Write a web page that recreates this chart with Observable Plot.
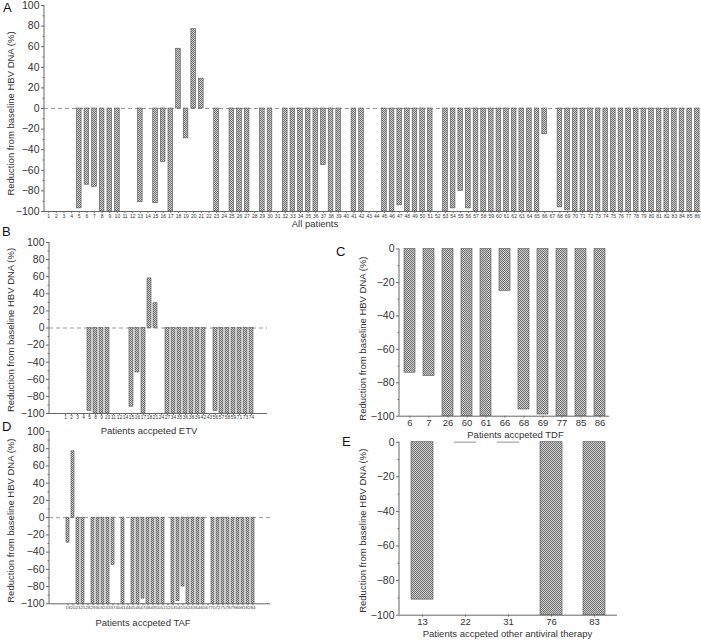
<!DOCTYPE html>
<html>
<head>
<meta charset="utf-8">
<script src="https://cdn.jsdelivr.net/npm/d3@7"></script>
<script src="https://cdn.jsdelivr.net/npm/@observablehq/plot@0.6"></script>
<style>
  html, body { margin: 0; padding: 0; background: white; }
  #wrap { position: relative; width: 701px; height: 640px; font-family: "Liberation Sans", Arial, sans-serif; color: #222; }
  .pnl { position: absolute; }
  .letter { position: absolute; font-size: 13px; line-height: 15px; color: #111; }
</style>
</head>
<body>
<svg width="0" height="0" style="position:absolute">
  <defs>
    <pattern id="hatch" width="2" height="2" patternUnits="userSpaceOnUse">
      <rect width="2" height="2" fill="#d0d0d0"></rect>
      <rect x="0" y="0" width="1" height="1" fill="#707070"></rect>
      <rect x="1" y="1" width="1" height="1" fill="#707070"></rect>
    </pattern>
  </defs>
</svg>
<div id="wrap"></div>
<script>
// ---- data ----
const allIds = [1,2,3,4,5,6,7,8,9,10,11,12,13,14,15,16,17,18,19,20,21,22,23,24,25,26,27,28,29,30,
  31,32,33,34,35,36,37,38,39,40,41,42,43,44,45,46,47,48,49,50,51,52,53,54,55,56,57,58,59,60,
  61,62,63,64,65,66,67,68,69,70,71,72,73,74,75,76,77,78,79,80,81,82,83,84,85,86];
const allValues = [0,0,0,0,-97,-74,-76,-100,-100,-100,0,0,-91,0,-92,-52,-100,58,-29,77,
  29,0,-100,0,-100,-100,-100,0,-100,-100,0,-100,-100,-100,-100,-100,-55,-100,-100,0,
  -100,-100,0,0,-100,-100,-94,-100,-100,-100,-100,0,-100,-97,-80,-97,-100,-100,-100,-100,
  -100,-100,-100,-100,-100,-25,0,-96,-99,-100,-100,-100,-100,-100,-100,-100,-100,-100,-100,-100,
  -100,-100,-100,-100,-100,-100];
const etvIds = [1,2,3,4,5,8,9,10,11,12,14,15,16,17,18,21,24,27,34,35,36,38,39,42,43,56,57,58,59,71,73,74];
const tdfIds = [6,7,26,60,61,66,68,69,77,85,86];
const tafIds = [19,20,23,25,28,29,30,32,33,37,40,41,44,45,46,47,48,49,50,51,52,53,54,55,62,63,64,65,67,70,72,75,78,79,80,81,82,84];
const otherIds = [13,22,31,76,83];

const yTitle = "Reduction from baseline HBV DNA (%)";
const fullTicks = [-100,-80,-60,-40,-20,0,20,40,60,80,100];
const fullMinor = [-90,-70,-50,-30,-10,10,30,50,70,90];
const negTicks = [-100,-80,-60,-40,-20,0];
const negMinor = [-90,-70,-50,-30,-10];

const valueOf = new Map(allIds.map((id, i) => [id, allValues[i]]));

const wrap = document.getElementById("wrap");

function leftLine(...args) {
  const dims = args.find(a => a && a.marginLeft !== undefined);
  const l = document.createElementNS("http://www.w3.org/2000/svg", "line");
  l.setAttribute("x1", dims.marginLeft);
  l.setAttribute("x2", dims.marginLeft);
  l.setAttribute("y1", dims.marginTop);
  l.setAttribute("y2", dims.height - dims.marginBottom);
  l.setAttribute("stroke", "#666");
  l.setAttribute("stroke-width", "1");
  return l;
}

function panel(c) {
  const rows = c.ids.map(id => ({id: String(id), v: valueOf.get(id)}));
  const marks = [];
  if (c.dashed) marks.push(Plot.ruleY([0], {stroke: "#9a9a9a", strokeDasharray: "4,3", strokeWidth: 1}));
  marks.push(Plot.barY(rows.filter(d => d.v !== 0), {x: "id", y1: 0, y2: "v", fill: "url(#hatch)", stroke: "#555", strokeWidth: 0.6}));
  if (c.zeroTicks) marks.push(Plot.tickY(rows.filter(d => d.v === 0), {x: "id", y: "v", stroke: "#aaa", strokeWidth: 1.3}));
  marks.push(Plot.axisY({ticks: c.yTicks, tickSize: 3, tickPadding: 2, fontSize: 10.5, label: null, color: "#333", stroke: "#666"}));
  marks.push(Plot.axisY({ticks: c.yMinor, tickSize: 1.5, tickFormat: () => "", label: null, stroke: "#666"}));
  marks.push(Plot.axisX({tickSize: 2, tickPadding: c.xPad, fontSize: c.xFont, label: null, color: "#333", stroke: "#777"}));
  marks.push(Plot.ruleY([c.yDomain[0]], {stroke: "#666", strokeWidth: 1}));
  marks.push(leftLine);
  marks.push(Plot.text([yTitle], {text: d => d, frameAnchor: "left", textAnchor: "middle", lineAnchor: "middle", dx: c.ytDx, dy: c.ytDy, rotate: -90, fontSize: 9.5, fill: "#333"}));
  marks.push(Plot.text([c.xTitle], {text: d => d, frameAnchor: "bottom", textAnchor: "middle", lineAnchor: "middle", dx: c.xtDx, dy: c.xtDy, fontSize: 9.5, fill: "#333"}));
  const p = Plot.plot({
    width: c.width, height: c.height,
    marginLeft: c.mL, marginRight: c.mR, marginTop: c.mT, marginBottom: c.mB,
    style: {fontFamily: "Liberation Sans, Arial, sans-serif", background: "transparent", overflow: "visible"},
    x: {type: "band", domain: c.ids.map(String), paddingInner: c.pi, paddingOuter: c.po, align: 0.5},
    y: {domain: c.yDomain},
    marks
  });
  p.classList.add("pnl");
  p.style.left = c.left + "px";
  p.style.top = c.top + "px";
  wrap.appendChild(p);
}

// A
panel({ids: allIds, yDomain: [-100, 100], yTicks: fullTicks, yMinor: fullMinor, dashed: true,
  left: 0, top: 0, width: 701, height: 232, mL: 44, mR: 0, mT: 5, mB: 21,
  pi: 0.39, po: 0.25, xFont: 5, xPad: 0.5,
  ytDx: -34, ytDy: 5, xTitle: "All patients", xtDx: -58, xtDy: 12});
// B
panel({ids: etvIds, yDomain: [-100, 100], yTicks: fullTicks, yMinor: fullMinor, dashed: true,
  left: 0, top: 228, width: 280, height: 210, mL: 49, mR: 13, mT: 14, mB: 25,
  pi: 0.4, po: 0.42, xFont: 4.8, xPad: 0.5,
  ytDx: -39, ytDy: 2, xTitle: "Patients accpeted ETV", xtDx: -9.5, xtDy: 17});
// C
panel({ids: tdfIds, yDomain: [-100, 0], yTicks: negTicks, yMinor: negMinor, dashed: false,
  left: 340, top: 240, width: 290, height: 200, mL: 59, mR: 21, mT: 8.5, mB: 24.3,
  pi: 0.44, po: 0.18, xFont: 9.5, xPad: 1,
  ytDx: -37, ytDy: 6, xTitle: "Patients accpeted TDF", xtDx: 11, xtDy: 19});
// D
panel({ids: tafIds, yDomain: [-100, 100], yTicks: fullTicks, yMinor: fullMinor, dashed: true,
  left: 0, top: 420, width: 290, height: 220, mL: 49, mR: 20, mT: 11, mB: 36.7,
  pi: 0.43, po: 0.3, xFont: 4.3, xPad: 0.5,
  ytDx: -39, ytDy: 3, xTitle: "Patients accpeted TAF", xtDx: -17, xtDy: 18.7});
// E
panel({ids: otherIds, yDomain: [-100, 0], yTicks: negTicks, yMinor: negMinor, dashed: false, zeroTicks: true,
  left: 340, top: 430, width: 300, height: 210, mL: 59, mR: 23, mT: 11.7, mB: 25.3,
  pi: 0.49, po: 0.235, xFont: 9.5, xPad: 1,
  ytDx: -37, ytDy: 2, xTitle: "Patients accpeted other antiviral therapy", xtDx: -1, xtDy: 19});

// panel letters
[["A", 3, 0], ["B", 2, 224], ["C", 336, 244], ["D", 2, 419], ["E", 342, 434]].forEach(([t, x, y]) => {
  const d = document.createElement("div");
  d.className = "letter";
  d.textContent = t;
  d.style.left = x + "px";
  d.style.top = y + "px";
  wrap.appendChild(d);
});
</script>
</body>
</html>
